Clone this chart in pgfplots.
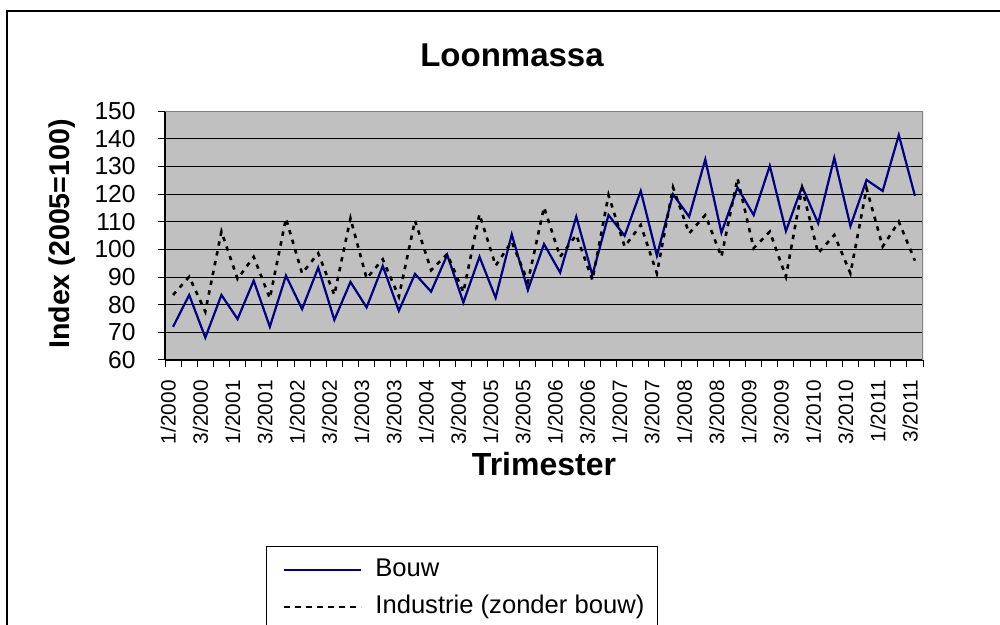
\documentclass[border=0pt]{standalone}
\usepackage{pgfplots}
\pgfplotsset{compat=1.18}
\usepackage{fontspec}
\setmainfont{Liberation Sans}
\definecolor{navy}{HTML}{000080}
\definecolor{plotbg}{HTML}{C0C0C0}
\begin{document}
\begin{tikzpicture}
\begin{axis}[
  at={(82.5pt,132.5pt)}, anchor=south west,
  scale only axis, width=379pt, height=124.5pt,
  xmin=-0.5, xmax=46.5, ymin=60, ymax=150,
  axis lines*=left,
  axis line style={black, line width=0.7pt},
  axis background/.style={fill=plotbg},
  tick align=outside,
  major tick length=3.5pt, minor tick length=3.5pt,
  every tick/.style={black, line width=0.5pt},
  ytick={60,70,...,150},
  ymajorgrids, grid style={black, line width=0.5pt},
  xtick={-0.3,1.7,...,45.8},
  xticklabels={1/2000,3/2000,1/2001,3/2001,1/2002,3/2002,1/2003,3/2003,1/2004,3/2004,1/2005,3/2005,1/2006,3/2006,1/2007,3/2007,1/2008,3/2008,1/2009,3/2009,1/2010,3/2010,1/2011,3/2011},
  minor xtick={-0.5,0.5,...,46.6},
  major x tick style={draw=none},
  /pgf/number format/assume math mode=true,
  yticklabel style={font=\fontsize{12.3pt}{14pt}\selectfont, inner sep=0pt},
  yticklabel shift=11pt,
  xticklabel style={font=\fontsize{10.4pt}{12pt}\selectfont, rotate=90, anchor=east, inner sep=0pt},
  xticklabel shift=6.5pt,
  legend cell align=left,
  legend style={at={(0.1557,-0.792)}, anchor=north west, draw=none, fill=none,
    inner sep=0pt, row sep=6pt, column sep=6.5pt,
    nodes={inner sep=0pt, text height=9.5pt, text depth=3pt, font=\fontsize{12.8pt}{14pt}\selectfont}},
]
\addplot[navy, line width=1.1pt,
  legend image code/.code={\draw[navy, line width=0.6pt] (0pt,0pt) -- (38.5pt,0pt);}]
coordinates {
(0,72.0)(1,83.5)(2,68.1)(3,83.5)(4,74.8)(5,88.7)(6,72.0)(7,90.5)(8,78.4)(9,93.4)
(10,74.5)(11,88.2)(12,79.0)(13,94.0)(14,77.8)(15,91.1)(16,84.7)(17,98.0)(18,80.8)(19,97.3)
(20,82.5)(21,105.4)(22,85.3)(23,101.9)(24,91.6)(25,111.8)(26,90.7)(27,112.4)(28,104.9)(29,121.1)
(30,97.7)(31,119.9)(32,111.8)(33,132.5)(34,106.0)(35,122.3)(36,112.4)(37,130.2)(38,106.6)(39,122.7)
(40,109.4)(41,133.1)(42,108.4)(43,125.1)(44,121.1)(45,141.3)(46,119.3)
};
\addlegendentry{Bouw}
\addplot[black, line width=1.3pt, dash pattern=on 2.2pt off 2.8pt,
  legend image code/.code={\draw[black, line width=1pt, dash pattern=on 2.6pt off 2.9pt] (0pt,0pt) -- (38.5pt,0pt);}]
coordinates {
(0,83.5)(1,90.1)(2,77.5)(3,106.4)(4,89.3)(5,97.3)(6,82.3)(7,111.2)(8,91.3)(9,98.6)
(10,83.5)(11,111.2)(12,89.5)(13,96.4)(14,82.9)(15,110.4)(16,92.5)(17,98.3)(18,84.5)(19,112.7)
(20,94.1)(21,102.8)(22,88.3)(23,115.2)(24,97.3)(25,105.2)(26,88.9)(27,119.6)(28,101.0)(29,108.8)
(30,91.3)(31,122.4)(32,105.8)(33,112.4)(34,97.3)(35,125.7)(36,100.4)(37,106.4)(38,90.1)(39,122.0)
(40,98.6)(41,105.2)(42,91.3)(43,122.0)(44,101.0)(45,110.0)(46,95.9)
};
\addlegendentry{Industrie (zonder bouw)}
\draw[gray, line width=0.7pt] (rel axis cs:0,1) -- (rel axis cs:1,1) -- (rel axis cs:1,0);
\end{axis}
\node[font=\bfseries\fontsize{16.5pt}{19pt}\selectfont] at (256pt,285pt) {Loonmassa};
\node[font=\bfseries\fontsize{16pt}{19pt}\selectfont] at (272pt,80.5pt) {Trimester};
\node[font=\bfseries\fontsize{14.3pt}{17pt}\selectfont, rotate=90] at (31pt,195.5pt) {Index (2005=100)};
\draw[black, line width=0.5pt] (133pt,-10pt) -- (133pt,39pt) -- (328.5pt,39pt) -- (328.5pt,-10pt);
\draw[black, line width=1pt] (3.5pt,-10pt) -- (3.5pt,307pt) -- (510pt,307pt);
\pgfresetboundingbox
\path[use as bounding box] (0pt,0pt) rectangle (500pt,312.5pt);
\end{tikzpicture}
\end{document}
